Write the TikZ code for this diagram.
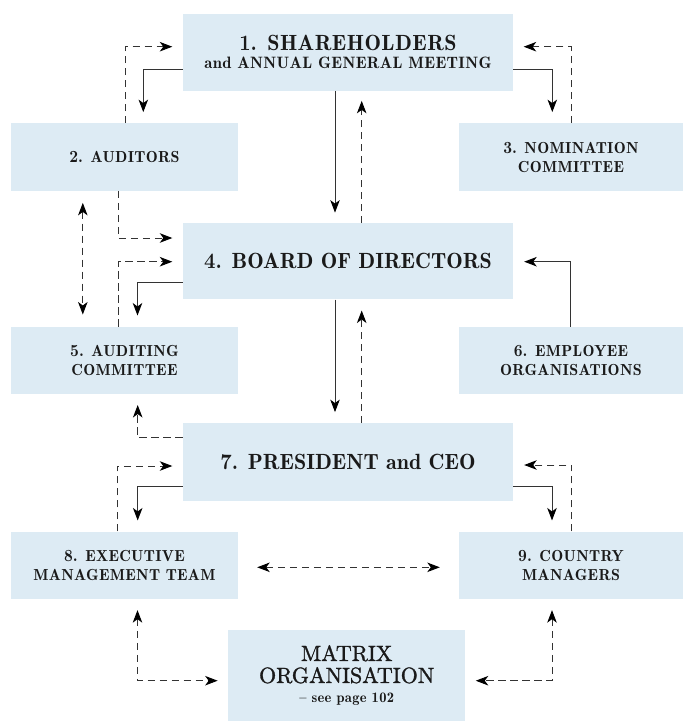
\documentclass[tikz,border=0pt]{standalone}
\usepackage{fontspec}
\newfontfamily\fR{lmroman10-regular.otf}[FakeBold=1.3]
\newfontfamily\fM{lmromandemi10-regular.otf}[LetterSpace=2]
\newfontfamily\fN{lmromandemi10-regular.otf}
\newfontfamily\fB{lmroman10-bold.otf}[FakeStretch=0.9]
\usetikzlibrary{arrows.meta}
\definecolor{boxfill}{HTML}{DDEBF4}
\definecolor{ink}{HTML}{1A1A1A}
\definecolor{linec}{HTML}{333333}
\tikzset{
  box/.style={fill=boxfill, draw=none, inner sep=0pt, align=center, text=ink},
  bigtext/.style={font=\fontsize{22}{21}\selectfont\fM},
  bigtight/.style={font=\fontsize{22}{21}\selectfont\fN},
  smalltext/.style={font=\fontsize{16}{19}\selectfont\fM},
  conn/.style={draw=linec, line width=0.95pt, line join=miter,
    -{Stealth[length=12.5pt,width=9.5pt,inset=3.5pt,color=black]}},
  solidarrow/.style={conn},
  dasharrow/.style={conn, dash pattern=on 7.5pt off 4.5pt},
  twoway/.style={draw=linec, line width=0.95pt, dash pattern=on 7.5pt off 4.5pt,
    {Stealth[length=12.5pt,width=9.5pt,inset=3.5pt,color=black]}-{Stealth[length=12.5pt,width=9.5pt,inset=3.5pt,color=black]}},
}
\newcommand{\bnum}[1]{{\fontsize{17}{19}\selectfont\fB #1}}
\begin{document}
\begin{tikzpicture}[x={(1pt,0pt)}, y={(0pt,-1pt)}]
\useasboundingbox (0,0) rectangle (683,721);

% boxes
\node[box, bigtext, minimum width=330pt, minimum height=76.7pt] (b1) at (348,52.3)
  {{\fB 1.} SHAREHOLDERS\\[-3pt] {\fontsize{16.5}{19}\selectfont\fM and ANNUAL GENERAL MEETING}};
\node[box, smalltext, minimum width=227pt, minimum height=67.4pt] (b2) at (124.5,157)
  {\bnum{2.} AUDITORS};
\node[box, smalltext, minimum width=224pt, minimum height=67.4pt] (b3) at (571,157)
  {\bnum{3.} NOMINATION\\ COMMITTEE};
\node[box, bigtight, minimum width=330pt, minimum height=76pt] (b4) at (348,261.3)
  {{\fB 4.} BOARD OF DIRECTORS};
\node[box, smalltext, minimum width=227pt, minimum height=67.6pt] (b5) at (124.5,360.5)
  {\bnum{5.} AUDITING\\ COMMITTEE};
\node[box, smalltext, minimum width=224pt, minimum height=67.6pt] (b6) at (571,360.5)
  {\bnum{6.} EMPLOYEE\\ ORGANISATIONS};
\node[box, bigtight, minimum width=330pt, minimum height=77.4pt] (b7) at (348,462)
  {{\fB 7.} PRESIDENT and CEO};
\node[box, smalltext, minimum width=227pt, minimum height=67.3pt] (b8) at (124.5,565.3)
  {\bnum{8.} EXECUTIVE\\ MANAGEMENT TEAM};
\node[box, smalltext, minimum width=224pt, minimum height=67.3pt] (b9) at (571,565.3)
  {\bnum{9.} COUNTRY\\ MANAGERS};
\node[box, font=\fontsize{22}{22}\selectfont\fR, minimum width=236.7pt, minimum height=91pt] (b10) at (346.7,675.5)
  {MATRIX\\ ORGANISATION\\[-2pt] {\fontsize{14.5}{16}\selectfont\fM \textendash\ see page 102}};

% bend coordinates
\coordinate (kA) at (143.3,69.3);
\coordinate (kB) at (125,46.7);
\coordinate (kC) at (552.3,69.3);
\coordinate (kD) at (571,46.7);
\coordinate (kE) at (335,0);
\coordinate (kF) at (361.7,0);
\coordinate (kG) at (82.8,0);
\coordinate (kH) at (118,238);
\coordinate (kI) at (118,261.7);
\coordinate (kJ) at (137.5,282.3);
\coordinate (kK) at (570.7,261.7);
\coordinate (kL) at (137.7,437.7);
\coordinate (kM) at (117.3,466);
\coordinate (kN) at (137.7,486.5);
\coordinate (kO) at (552,486.5);
\coordinate (kP) at (571.8,465);
\coordinate (kQ) at (0,567.3);
\coordinate (kR) at (137.5,680.7);
\coordinate (kS) at (552,680.7);

% connectors
\draw[solidarrow, shorten >=11pt] (b1.west |- kA) -| (kA |- b2.north);
\draw[dasharrow, shorten >=10.5pt] (kB |- b2.north) |- (b1.west |- kB);
\draw[solidarrow, shorten >=11pt] (b1.east |- kC) -| (kC |- b3.north);
\draw[dasharrow, shorten >=10.5pt] (kD |- b3.north) |- (b1.east |- kD);
\draw[solidarrow, shorten >=10.5pt] (kE |- b1.south) -- (kE |- b4.north);
\draw[dasharrow, shorten >=10pt] (kF |- b4.north) -- (kF |- b1.south);
\draw[twoway, shorten <=12pt, shorten >=12pt] (kG |- b2.south) -- (kG |- b5.north);
\draw[dasharrow, shorten >=10.5pt] (kH |- b2.south) |- (b4.west |- kH);
\draw[dasharrow, shorten >=10.5pt] (kI |- b5.north) |- (b4.west |- kI);
\draw[solidarrow, shorten >=11pt] (b4.west |- kJ) -| (kJ |- b5.north);
\draw[solidarrow, shorten >=11pt] (kK |- b6.north) |- (b4.east |- kK);
\draw[solidarrow, shorten >=11pt] (kE |- b4.south) -- (kE |- b7.north);
\draw[dasharrow, shorten >=11pt] (kF |- b7.north) -- (kF |- b4.south);
\draw[dasharrow, shorten >=10.5pt] (b7.west |- kL) -| (kL |- b5.south);
\draw[dasharrow, shorten >=10.5pt] (kM |- b8.north) |- (b7.west |- kM);
\draw[solidarrow, shorten >=11pt] (b7.west |- kN) -| (kN |- b8.north);
\draw[solidarrow, shorten >=11pt] (b7.east |- kO) -| (kO |- b9.north);
\draw[dasharrow, shorten >=11pt] (kP |- b9.north) |- (b7.east |- kP);
\draw[twoway, shorten <=19pt, shorten >=19pt] (b8.east |- kQ) -- (b9.west |- kQ);
\draw[twoway, shorten <=11pt, shorten >=10.5pt] (kR |- b8.south) |- (b10.west |- kR);
\draw[twoway, shorten <=11pt, shorten >=10.5pt] (kS |- b9.south) |- (b10.east |- kS);
\end{tikzpicture}
\end{document}
